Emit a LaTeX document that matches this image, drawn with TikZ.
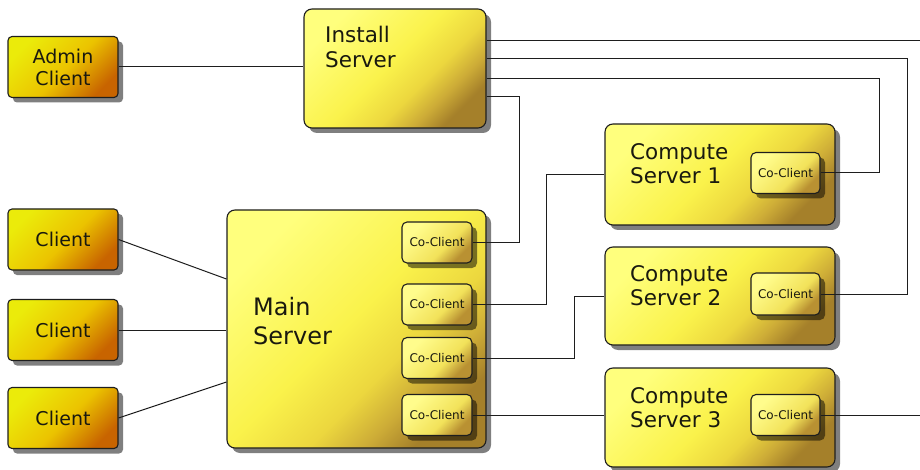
\documentclass[tikz,border=0pt]{standalone}
\usepackage{fontspec}
\setmainfont{DejaVu Sans}
\usetikzlibrary{shadows,calc}

% palette
\definecolor{srvA}{RGB}{255,255,125}
\definecolor{srvL}{RGB}{250,242,75}
\definecolor{srvM}{RGB}{236,215,62}
\definecolor{srvB}{RGB}{205,172,55}
\definecolor{srvD}{RGB}{165,128,42}
\definecolor{cliA}{RGB}{235,235,10}
\definecolor{cliM}{RGB}{235,195,0}
\definecolor{cliD}{RGB}{200,100,0}
\definecolor{ccA}{RGB}{255,252,140}
\definecolor{ccM}{RGB}{242,226,90}
\definecolor{ccD}{RGB}{185,145,50}
\definecolor{edge}{RGB}{30,30,30}
\definecolor{ink}{RGB}{25,25,15}

% diagonal fills: dark corner at bottom right once rotated by 45 degrees
\pgfdeclareverticalshading{srvshade}{100bp}{color(0bp)=(srvD); color(25bp)=(srvD); color(32bp)=(srvB); color(40bp)=(srvM); color(52bp)=(srvL); color(75bp)=(srvA); color(100bp)=(srvA)}
\pgfdeclareverticalshading{clishade}{100bp}{color(0bp)=(cliD); color(25bp)=(cliD); color(48bp)=(cliM); color(75bp)=(cliA); color(100bp)=(cliA)}
\pgfdeclareverticalshading{ccshade}{100bp}{color(0bp)=(ccD); color(27bp)=(ccD); color(42bp)=(ccM); color(72bp)=(ccA); color(100bp)=(ccA)}

\tikzset{
  boxbase/.style={draw=edge, line width=1.1pt, inner sep=0pt, shading angle=45,
    drop shadow={shadow xshift=5pt, shadow yshift=-5pt, opacity=0.5, fill=black}},
  clientbox/.style={boxbase, shading=clishade, rounded corners=4pt,
    minimum width=110pt, minimum height=61pt, align=center, text=ink,
    font=\fontsize{19}{22}\selectfont},
  serverbox/.style={boxbase, shading=srvshade, rounded corners=8pt},
  ccbox/.style={boxbase, shading=ccshade, rounded corners=5pt,
    minimum width=70pt, minimum height=41pt, text=ink,
    font=\fontsize{12}{14}\selectfont},
  srvtext/.style={anchor=north west, inner sep=0pt, align=left, text=ink},
  link/.style={draw=edge, line width=1pt},
}

\begin{document}
\begin{tikzpicture}[x=1pt, y=-1pt]
\useasboundingbox (0,0) rectangle (920,470);

% clients
\node[clientbox] (admin) at (63,67) {Admin\\Client};
\node[clientbox] (cl1) at (63,239.5) {Client};
\node[clientbox] (cl2) at (63,330) {Client};
\node[clientbox] (cl3) at (63,418) {Client};

% install server
\node[serverbox, minimum width=182pt, minimum height=119pt] (install) at (395,68.5) {};
\node[srvtext, font=\fontsize{21.5}{25}\selectfont] (installtxt) at (325,26) {Install\\Server};

% main server with its co-clients
\node[serverbox, minimum width=259pt, minimum height=238pt] (main) at (356.5,329) {};
\node[srvtext, font=\fontsize{24}{29}\selectfont] (maintxt) at (253,297) {Main\\Server};
\node[ccbox] (mc1) at (437,242.5) {Co-Client};
\node[ccbox] (mc2) at (437,304.5) {Co-Client};
\node[ccbox] (mc3) at (437,358) {Co-Client};
\node[ccbox] (mc4) at (437,415) {Co-Client};

% compute servers
\node[serverbox, minimum width=230pt, minimum height=101pt] (cs1) at (720,174.5) {};
\node[srvtext, font=\fontsize{21.5}{24}\selectfont] (cs1txt) at (630,143) {Compute\\Server 1};
\node[ccbox, minimum width=69pt] (cs1cc) at (785.5,173) {Co-Client};

\node[serverbox, minimum width=230pt, minimum height=98pt] (cs2) at (720,296) {};
\node[srvtext, font=\fontsize{21.5}{24}\selectfont] (cs2txt) at (630,265) {Compute\\Server 2};
\node[ccbox, minimum width=69pt, minimum height=42pt] (cs2cc) at (785.5,294) {Co-Client};

\node[serverbox, minimum width=230pt, minimum height=99pt] (cs3) at (720,417.5) {};
\node[srvtext, font=\fontsize{21.5}{24}\selectfont] (cs3txt) at (630,387) {Compute\\Server 3};
\node[ccbox, minimum width=69pt] (cs3cc) at (785.5,415) {Co-Client};

% routing columns and the open right edge
\coordinate (edgeR) at (920,0);
\coordinate (colA) at (907,0);
\coordinate (colB) at (879,0);
\coordinate (colC) at (519,0);
\coordinate (colD) at (546,0);
\coordinate (colE) at (574,0);

% ports on the install server's right side
\coordinate (i1) at ([yshift=27.5pt]install.east);
\coordinate (i2) at ([yshift=9.5pt]install.east);
\coordinate (i3) at ([yshift=-10.5pt]install.east);
\coordinate (i4) at ([yshift=-28.5pt]install.east);

% ports on the main server's left side
\coordinate (m1) at ([yshift=50pt]main.west);
\coordinate (m3) at ([yshift=-53pt]main.west);

% connectors
\draw[link] (admin.east) -- (admin.east -| install.west);
\draw[link] (cl1.east) -- (m1);
\draw[link] (cl2.east) -- (cl2.east -| main.west);
\draw[link] (cl3.east) -- (m3);

\draw[link] (i1) -- (i1 -| edgeR);
\draw[link] (i2) -| (colA |- cs2cc.east) -- (cs2cc.east);
\draw[link] (i3) -| (colB |- cs1cc.east) -- (cs1cc.east);
\draw[link] (i4) -| (colC |- mc1.east) -- (mc1.east);

\draw[link] (mc2.east) -| (colD |- cs1.west) -- (cs1.west);
\draw[link] (mc3.east) -| (colE |- cs2.west) -- (cs2.west);
\draw[link] (mc4.east) -- (mc4.east -| cs3.west);
\draw[link] (cs3cc.east) -- (cs3cc.east -| edgeR);
\end{tikzpicture}
\end{document}
